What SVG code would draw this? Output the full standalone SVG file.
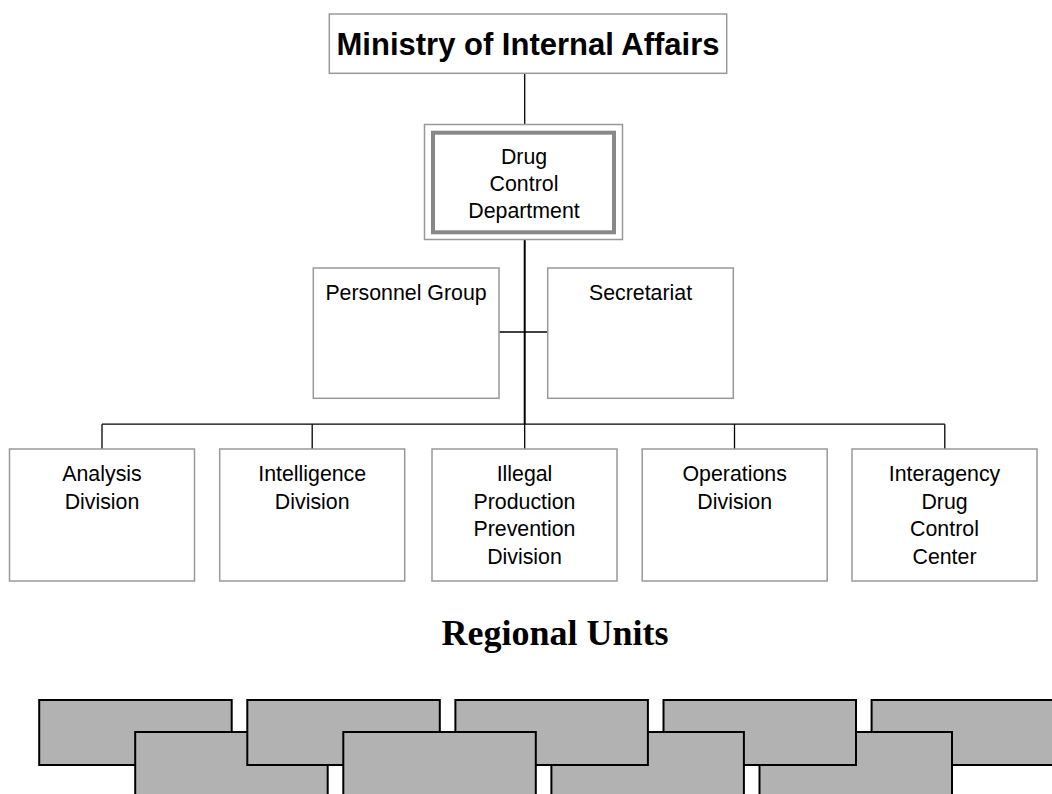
<svg xmlns="http://www.w3.org/2000/svg" width="1052" height="794" viewBox="0 0 1052 794">
  <style>
    .box { fill: #ffffff; stroke: #999999; stroke-width: 1.5; }
    .lbl { font-family: "Liberation Sans", Arial, sans-serif; font-size: 21.33px; fill: #000000; text-anchor: middle; }
    .title { font-family: "Liberation Sans", Arial, sans-serif; font-size: 31px; font-weight: bold; fill: #000000; text-anchor: middle; }
    .heading { font-family: "Liberation Serif", "Times New Roman", serif; font-size: 36px; font-weight: bold; fill: #000000; }
    .link { fill: none; stroke: #000000; stroke-width: 1.3; }
    .trunk { fill: none; stroke: #000000; stroke-width: 2; }
    .unit { fill: #b2b2b2; stroke: #000000; stroke-width: 2; }
  </style>
  <rect width="1052" height="794" fill="#ffffff"/>

  <!-- connectors -->
  <g id="connectors">
    <line class="link" x1="524.7" y1="73.3" x2="524.7" y2="124.5"/>
    <line class="trunk" x1="524.7" y1="239.5" x2="524.7" y2="424.2"/>
    <line class="link" x1="524.7" y1="424.2" x2="524.7" y2="449"/>
    <line class="link" x1="499" y1="332" x2="547.7" y2="332"/>
    <line class="link" x1="102" y1="424.2" x2="944.8" y2="424.2"/>
    <line class="link" x1="102" y1="424.2" x2="102" y2="449"/>
    <line class="link" x1="312.2" y1="424.2" x2="312.2" y2="449"/>
    <line class="link" x1="734.5" y1="424.2" x2="734.5" y2="449"/>
    <line class="link" x1="944.8" y1="424.2" x2="944.8" y2="449"/>
  </g>

  <!-- top of the hierarchy -->
  <g id="ministry">
    <rect class="box" x="329.3" y="14" width="397.4" height="59.3"/>
    <text class="title" x="528" y="54.5">Ministry of Internal Affairs</text>
  </g>

  <g id="drug-control-department">
    <rect class="box" x="424.5" y="124.5" width="198" height="115"/>
    <rect x="433" y="132.7" width="181" height="99.6" fill="none" stroke="#888888" stroke-width="4"/>
    <text class="lbl" x="524" y="163.5">Drug</text>
    <text class="lbl" x="524" y="190.5">Control</text>
    <text class="lbl" x="524" y="217.5">Department</text>
  </g>

  <!-- staff units -->
  <g id="personnel-group">
    <rect class="box" x="313.3" y="268" width="185.7" height="130.3"/>
    <text class="lbl" x="406" y="300">Personnel Group</text>
  </g>
  <g id="secretariat">
    <rect class="box" x="547.7" y="268" width="185.6" height="130.3"/>
    <text class="lbl" x="640.5" y="300">Secretariat</text>
  </g>

  <!-- divisions -->
  <g id="analysis-division">
    <rect class="box" x="9.5" y="449" width="185" height="132"/>
    <text class="lbl" x="102" y="481">Analysis</text>
    <text class="lbl" x="102" y="508.5">Division</text>
  </g>
  <g id="intelligence-division">
    <rect class="box" x="219.7" y="449" width="185" height="132"/>
    <text class="lbl" x="312.2" y="481">Intelligence</text>
    <text class="lbl" x="312.2" y="508.5">Division</text>
  </g>
  <g id="illegal-production-prevention-division">
    <rect class="box" x="432" y="449" width="185" height="132"/>
    <text class="lbl" x="524.5" y="481">Illegal</text>
    <text class="lbl" x="524.5" y="508.5">Production</text>
    <text class="lbl" x="524.5" y="536">Prevention</text>
    <text class="lbl" x="524.5" y="563.5">Division</text>
  </g>
  <g id="operations-division">
    <rect class="box" x="642.2" y="449" width="185" height="132"/>
    <text class="lbl" x="734.7" y="481">Operations</text>
    <text class="lbl" x="734.7" y="508.5">Division</text>
  </g>
  <g id="interagency-drug-control-center">
    <rect class="box" x="852" y="449" width="185" height="132"/>
    <text class="lbl" x="944.5" y="481">Interagency</text>
    <text class="lbl" x="944.5" y="508.5">Drug</text>
    <text class="lbl" x="944.5" y="536">Control</text>
    <text class="lbl" x="944.5" y="563.5">Center</text>
  </g>

  <!-- regional units: two interleaved rows of tiles -->
  <g id="regional-units">
    <text class="heading" x="441.5" y="645">Regional Units</text>
    <rect class="unit" x="39.2" y="700" width="192.5" height="65"/>
    <rect class="unit" x="135.2" y="732" width="192.5" height="100"/>
    <rect class="unit" x="247.3" y="700" width="192.5" height="65"/>
    <rect class="unit" x="871.6" y="700" width="192.5" height="65"/>
    <rect class="unit" x="759.5" y="732" width="192.5" height="100"/>
    <rect class="unit" x="663.5" y="700" width="192.5" height="65"/>
    <rect class="unit" x="551.4" y="732" width="192.5" height="100"/>
    <rect class="unit" x="455.4" y="700" width="192.5" height="65"/>
    <rect class="unit" x="343.3" y="732" width="192.5" height="100"/>
  </g>
</svg>
